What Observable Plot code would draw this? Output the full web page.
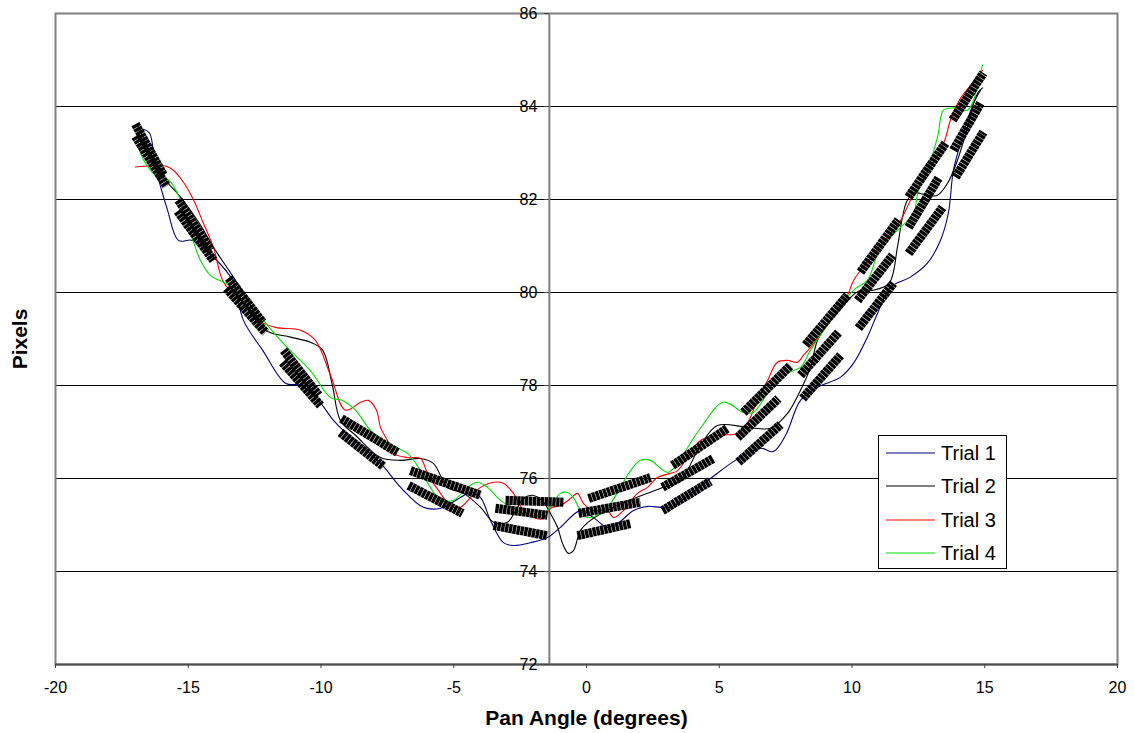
<!DOCTYPE html>
<html>
<head>
<meta charset="utf-8">
<script src="https://cdn.jsdelivr.net/npm/d3@7"></script>
<script src="https://cdn.jsdelivr.net/npm/@observablehq/plot@0.6"></script>
<style>
  html, body { margin: 0; padding: 0; background: #fff; }
  #chart { position: relative; width: 1134px; height: 733px; }
</style>
</head>
<body>
<div id="chart"></div>
<script>
// ---------- data ----------
const seriesNames = ["Trial 1", "Trial 2", "Trial 3", "Trial 4"];
const seriesColors = ["#000080", "#000000", "#ff0000", "#00e000"];

const trial1X = [-16.69,-16.46,-16.23,-15.78,-15.37,-14.84,-14.05,-13.33,-12.92,-12.2,-11.34,-10.77,-10.1,-9.53,-9.08,-7.76,-7.0,-6.14,-5.5,-4.75,-4.37,-3.99,-3.62,-3.13,-2.75,-2.11,-1.47,-0.98,-0.23,0.26,0.79,1.17,1.77,2.30,2.79,3.16,3.73,4.67,5.61,6.55,7.04,7.5,8.06,8.7,9.57,10.06,10.58,10.96,11.45,12.2,12.84,13.33,13.63,13.82,14.09,14.35,14.58,14.84];
const trial1Y = [83.51,83.43,82.70,81.77,81.12,81.12,80.76,80.26,79.40,78.76,78.05,78.0,77.68,77.25,76.99,76.33,75.81,75.38,75.36,75.59,75.70,75.59,75.1,74.62,74.56,74.62,74.73,74.95,75.31,75.16,74.95,75.03,75.31,75.40,75.38,75.38,75.59,76.0,76.39,76.65,76.58,76.93,77.68,77.96,78.18,78.48,79.04,79.55,80.11,80.33,80.63,81.12,81.71,82.63,83.21,83.71,84.07,84.35];

const trial2X = [-16.91,-15.93,-15.29,-14.54,-14.05,-13.3,-12.66,-12.09,-11.15,-10.4,-9.94,-9.57,-9.27,-8.7,-7.76,-7.0,-6.25,-5.76,-5.24,-4.63,-3.99,-3.5,-2.98,-2.67,-2.37,-2.03,-1.62,-1.36,-1.09,-0.9,-0.68,-0.49,-0.23,0.15,1.02,1.77,2.9,3.54,4.29,4.93,6.06,6.93,7.57,8.06,8.44,8.74,9.83,10.32,10.81,11.4,11.71,11.9,12.09,12.39,12.84,13.22,13.6,13.97,14.35,14.58,14.76,14.92];
const trial2Y = [83.6,82.48,82.05,81.45,80.97,80.33,79.73,79.19,79.04,78.93,78.76,78.0,77.25,76.93,76.45,76.39,76.43,76.32,75.81,75.68,75.38,75.06,75.06,75.31,75.57,75.64,75.49,75.25,74.95,74.6,74.39,74.45,74.88,75.1,75.38,75.57,75.81,75.96,76.71,77.14,77.1,77.08,77.4,77.9,78.39,79.02,79.83,80.05,80.05,80.2,80.97,81.62,81.99,82.14,82.09,82.09,82.35,82.84,83.56,84.07,84.31,84.4];

const trial3X = [-16.99,-16.42,-15.86,-15.56,-15.18,-14.8,-14.43,-14.05,-13.67,-13.03,-12.35,-11.71,-10.77,-10.21,-9.64,-9.08,-8.51,-8.21,-7.91,-7.76,-7.5,-7.27,-6.74,-6.25,-5.99,-5.5,-5.12,-4.75,-4.37,-3.99,-3.5,-3.13,-2.75,-2.37,-2.0,-1.62,-1.36,-0.98,-0.6,-0.34,-0.11,0.26,0.79,1.02,1.39,1.92,2.3,2.67,3.16,3.43,4.29,5.05,5.69,6.06,6.44,6.82,7.19,7.57,7.95,8.17,8.44,9.83,10.06,11.07,11.83,12.2,13.45,13.71,14.09,14.73,14.92];
const trial3Y = [82.7,82.72,82.72,82.63,82.37,81.99,81.49,80.97,80.22,79.83,79.40,79.25,79.19,78.97,78.22,77.47,77.64,77.68,77.47,77.1,76.82,76.54,76.45,76.43,76.11,75.68,75.42,75.38,75.59,75.81,75.92,75.9,75.68,75.31,75.16,75.14,75.36,75.42,75.57,75.68,75.46,75.31,75.31,75.16,75.31,75.68,75.81,76.02,76.11,76.17,76.82,76.93,76.97,77.19,77.68,78.11,78.5,78.54,78.5,78.65,78.82,79.94,80.26,81.01,81.55,81.98,83.21,83.71,84.18,84.63,84.78];

const trial4X = [-16.91,-16.8,-16.23,-15.74,-15.37,-14.8,-14.54,-14.16,-13.6,-12.92,-12.17,-11.34,-10.4,-9.64,-9.19,-8.7,-8.14,-7.5,-6.74,-6.25,-5.88,-5.5,-5.01,-4.48,-4.11,-3.73,-3.24,-2.75,-2.22,-1.73,-1.36,-0.98,-0.72,-0.49,-0.23,0.04,0.53,0.9,1.28,1.66,2.03,2.41,2.79,3.05,3.28,4.29,5.16,5.91,6.29,6.82,7.57,8.06,8.44,10.06,10.58,11.07,11.83,12.32,12.5,12.84,13.22,13.45,13.82,14.35,14.58,14.76,14.92];
const trial4Y = [83.6,83.0,82.52,82.42,82.09,81.08,80.69,80.37,80.2,79.98,79.40,78.86,78.32,77.74,77.68,77.47,77.04,76.76,76.54,76.17,75.81,75.53,75.53,75.81,75.92,75.81,75.53,75.36,75.21,75.21,75.38,75.68,75.7,75.59,75.31,75.16,75.25,75.46,75.81,76.17,76.39,76.39,76.22,76.13,76.22,77.08,77.64,77.42,77.42,77.83,78.26,78.39,78.76,80.05,80.26,80.97,81.4,81.71,82.2,82.63,83.34,83.92,83.97,83.92,84.14,84.57,84.89];

// dense marker runs (start and end of each run of markers)
const markerX1 = [-16.99,-16.99,-15.37,-15.4,-13.48,-13.56,-11.41,-11.45,-9.23,-9.27,-6.63,-6.7,-3.05,-3.43,-3.5,0.08,-0.3,-0.34,3.24,2.86,2.86,5.91,5.69,5.72,8.25,8.06,8.14,10.32,10.21,10.24,12.13,12.13,12.13,13.79,13.82,13.9];
const markerY1 = [83.62,83.36,81.99,81.75,80.31,80.09,78.76,78.5,77.29,76.99,76.17,75.85,75.53,75.36,74.99,75.57,75.25,74.77,76.28,75.81,75.31,77.42,76.88,76.35,78.87,78.22,77.72,80.44,79.83,79.23,82.05,81.4,80.84,83.71,83.06,82.48];
const markerX2 = [-15.93,-15.82,-14.16,-14.05,-12.2,-12.09,-10.09,-10.02,-7.12,-7.65,-3.99,-4.67,-0.87,-1.47,-1.47,2.41,2.03,1.66,5.31,4.78,4.67,7.68,7.23,7.31,9.83,9.49,9.57,11.75,11.53,11.56,13.52,13.26,13.41,14.95,14.84,14.95];
const markerY2 = [82.52,82.29,80.91,80.69,79.36,79.14,77.79,77.57,76.56,76.26,75.64,75.25,75.49,75.21,74.77,76.02,75.49,75.03,77.08,76.43,75.94,78.43,77.72,77.16,79.94,79.14,78.65,81.56,80.8,80.2,83.21,82.46,81.83,84.72,84.07,83.45];

const xTicks = [-20, -15, -10, -5, 0, 5, 10, 15, 20];
const yTicks = [72, 74, 76, 78, 80, 82, 84, 86];
const gridY = [74, 76, 78, 80, 82, 84];
const yAxisAt = -1.4;

// ---------- build tables ----------
const trialsX = [trial1X, trial2X, trial3X, trial4X];
const trialsY = [trial1Y, trial2Y, trial3Y, trial4Y];
const lineData = [];
trialsX.forEach((xs, s) => xs.forEach((x, i) => lineData.push({series: seriesNames[s], x, y: trialsY[s][i]})));
const markerRuns = markerX1.map((x1, i) => ({x1, y1: markerY1[i], x2: markerX2[i], y2: markerY2[i]}));

const FONT = "'Liberation Sans', Arial, sans-serif";

const chart = Plot.plot({
  width: 1134,
  height: 733,
  marginLeft: 55,
  marginRight: 17,
  marginTop: 13,
  marginBottom: 69,
  style: {fontFamily: FONT, fontSize: "16px", color: "#000", background: "#fff"},
  x: {domain: [-20, 20], axis: null},
  y: {domain: [72, 86], axis: null},
  color: {domain: seriesNames, range: seriesColors},
  marks: [
    Plot.ruleY(gridY, {stroke: "#000", strokeWidth: 1}),
    Plot.frame({stroke: "#808080", strokeWidth: 2}),
    Plot.ruleX([yAxisAt], {stroke: "#808080", strokeWidth: 2}),
    Plot.ruleY([72], {stroke: "#505050", strokeWidth: 2}),
    Plot.axisX(xTicks, {tickSize: 4, tickPadding: 13, fontSize: 16, stroke: "#404040", label: null, tickFormat: d => String(d)}),
    Plot.ruleY(yTicks, {x1: yAxisAt - 0.19, x2: yAxisAt, stroke: "#404040"}),
    Plot.text(yTicks, {x: yAxisAt, y: d => d, text: d => String(d), dx: -12, textAnchor: "end", fontSize: 16}),
    Plot.line(lineData, {x: "x", y: "y", z: "series", stroke: "series", strokeWidth: 1.1, curve: "catmull-rom"}),
    Plot.link(markerRuns, {x1: "x1", y1: "y1", x2: "x2", y2: "y2", stroke: "#000", strokeWidth: 9, strokeDasharray: "3.4,0.5", strokeLinecap: "butt"}),
    Plot.text(["Pan Angle (degrees)"], {frameAnchor: "bottom", dy: 54, lineAnchor: "middle", textAnchor: "middle", fontSize: 21, fontWeight: "bold"}),
    Plot.text(["Pixels"], {frameAnchor: "left", dx: -35, rotate: -90, textAnchor: "middle", lineAnchor: "middle", fontSize: 21, fontWeight: "bold"})
  ]
});

document.getElementById("chart").appendChild(chart);

// ---------- legend ----------
const svg = d3.select(chart);
const lg = svg.append("g").attr("font-family", FONT).attr("font-size", 20).attr("text-anchor", "start");
lg.append("rect").attr("x", 878.5).attr("y", 435.5).attr("width", 128).attr("height", 133)
  .attr("fill", "#fff").attr("stroke", "#000").attr("stroke-width", 1);
const legendRowY = [453, 486, 520, 553];
seriesNames.forEach((name, i) => {
  lg.append("line").attr("x1", 886).attr("x2", 935).attr("y1", legendRowY[i]).attr("y2", legendRowY[i])
    .attr("stroke", seriesColors[i]).attr("stroke-width", 1.2);
  lg.append("text").attr("x", 941).attr("y", legendRowY[i]).attr("dy", "0.36em").attr("fill", "#000").text(name);
});
</script>
</body>
</html>
